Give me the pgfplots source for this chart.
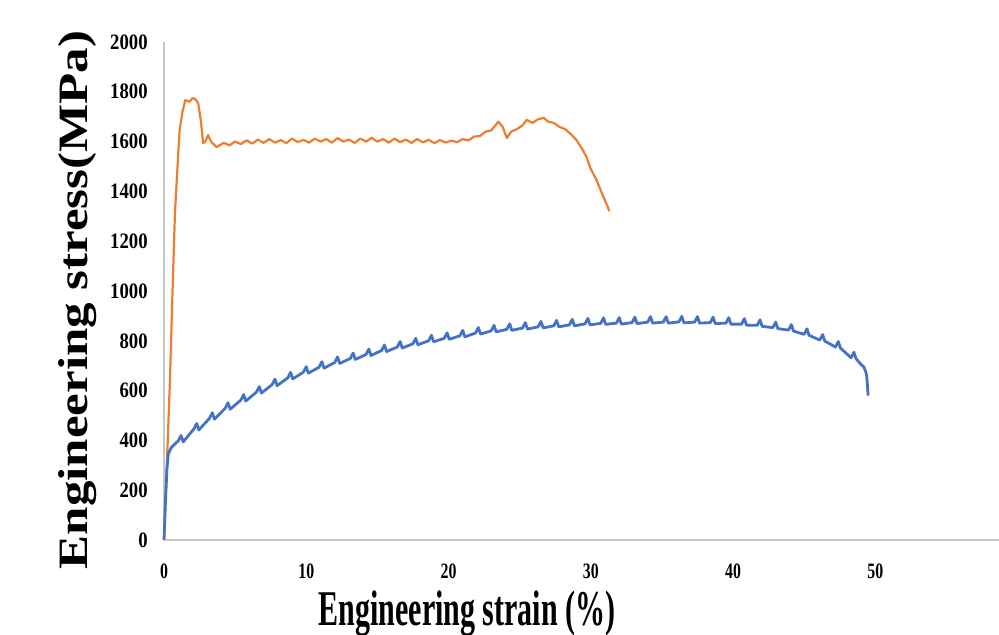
\documentclass[border=0pt]{standalone}
\usepackage{fontspec}
\setmainfont{Liberation Serif}
\usepackage{pgfplots}
\pgfplotsset{compat=1.18}
\definecolor{xlblue}{RGB}{68,114,196}
\definecolor{xlorange}{RGB}{237,125,49}

\begin{document}
\begin{tikzpicture}
\useasboundingbox (0,0) rectangle (499.5pt,317.5pt);
\begin{axis}[
  at={(82pt,47.5pt)}, anchor=south west,
  scale only axis, width=417.5pt, height=249pt,
  xmin=0, xmax=58.7, ymin=0, ymax=2000,
  axis x line=bottom, axis y line=left,
  axis line style={-, draw=black!22, line width=1pt},
  xtick={0,10,...,50}, ytick={0,200,...,2000},
  major tick length=0pt, tick style={draw=none},
  /pgf/number format/assume math mode=true,
  /pgf/number format/1000 sep={},
  xticklabel={\scalebox{0.72}[1]{\fontsize{11}{11}\bfseries\pgfmathprintnumber{\tick}}},
  yticklabel={\scalebox{0.85}[1]{\fontsize{11}{11}\bfseries\pgfmathprintnumber{\tick}}},
  xticklabel style={inner sep=0pt, anchor=north, yshift=-11.5pt},
  yticklabel style={inner sep=0pt, anchor=east, xshift=-8pt},
  xlabel={\scalebox{0.6}[1]{\fontsize{25}{25}\bfseries Engineering strain (\%)}},
  ylabel={\scalebox{1}[0.82]{\fontsize{25.5}{25.5}\bfseries Engineering stress(MPa)}},
  xlabel style={at={(axis description cs:0.363,-0.1707)}, anchor=base, inner sep=0pt},
  ylabel style={at={(axis description cs:-0.0922,0.482)}, anchor=base, inner sep=0pt},
  clip=false,
]
% orange specimen
\addplot[color=xlorange, line width=1.1pt, line join=round] coordinates {
  (0,0) (0.2,300) (0.42,643) (0.6,1000) (0.77,1313) (0.95,1500) (1.1,1647)
  (1.3,1720) (1.5,1767) (1.8,1760) (2.0,1775) (2.2,1770) (2.4,1755)
  (2.6,1680) (2.75,1594) (2.9,1600) (3.1,1626) (3.3,1600) (3.7,1578)
  (4.2,1595) (4.6,1585) (5.0,1600) (5.4,1590) (5.8,1605) (6.2,1592)
  (6.6,1608) (7.0,1595) (7.4,1610) (7.8,1596) (8.2,1606) (8.6,1594)
  (9.0,1612) (9.4,1598) (9.8,1607) (10.2,1596) (10.6,1612) (11.0,1600)
  (11.4,1610) (11.8,1596) (12.2,1614) (12.6,1600) (13.0,1608) (13.4,1595)
  (13.8,1612) (14.2,1600) (14.6,1615) (15.0,1600) (15.4,1610) (15.8,1596)
  (16.2,1612) (16.6,1598) (17.0,1608) (17.4,1595) (17.8,1610) (18.2,1597)
  (18.6,1607) (19.0,1594) (19.4,1606) (19.8,1596) (20.2,1604) (20.6,1598)
  (21.0,1610) (21.4,1605) (21.8,1620) (22.2,1622) (22.6,1640) (23.0,1645)
  (23.3,1665) (23.5,1680) (23.8,1660) (24.1,1614) (24.4,1640) (24.8,1650)
  (25.2,1665) (25.5,1687) (25.9,1675) (26.3,1690) (26.7,1695) (27.0,1680)
  (27.4,1675) (27.8,1659) (28.2,1650) (28.6,1630) (29.0,1606) (29.4,1570)
  (29.7,1538) (30.0,1490) (30.4,1446) (30.8,1390) (31.2,1337) (31.3,1320)
};
% blue specimen
\addplot[color=xlblue, line width=1.4pt, line join=round] coordinates {
  (0,0) (0.1,150) (0.2,280) (0.3,345) (0.5,370) (0.8,388)
  (1.0,398) (1.2,420) (1.35,394)
  (2.1,446) (2.3,468) (2.45,442)
  (3.2,489) (3.4,511) (3.55,485)
  (4.3,529) (4.5,551) (4.65,525)
  (5.4,562) (5.6,584) (5.75,558)
  (6.5,594) (6.7,616) (6.85,590)
  (7.6,624) (7.8,646) (7.95,620)
  (8.7,651) (8.9,673) (9.05,647)
  (9.8,674) (10.0,696) (10.15,670)
  (10.9,694) (11.1,716) (11.25,690)
  (12.0,713) (12.2,735) (12.35,709)
  (13.1,729) (13.3,751) (13.45,725)
  (14.2,745) (14.4,767) (14.55,741)
  (15.3,761) (15.5,783) (15.65,757)
  (16.4,775) (16.6,797) (16.75,771)
  (17.5,788) (17.7,810) (17.85,784)
  (18.6,800) (18.8,822) (18.95,796)
  (19.7,810) (19.9,832) (20.05,806)
  (20.8,820) (21.0,842) (21.15,816)
  (21.9,831) (22.1,853) (22.25,827)
  (23.0,840) (23.2,862) (23.35,836)
  (24.1,846) (24.3,868) (24.45,842)
  (25.2,851) (25.4,873) (25.55,847)
  (26.3,856) (26.5,878) (26.65,852)
  (27.4,860) (27.6,882) (27.75,856)
  (28.5,864) (28.7,886) (28.85,860)
  (29.6,868) (29.8,890) (29.95,864)
  (30.7,870) (30.9,892) (31.05,866)
  (31.8,871) (32.0,893) (32.15,867)
  (32.9,873) (33.1,895) (33.25,869)
  (34.0,875) (34.2,897) (34.35,871)
  (35.1,875) (35.3,897) (35.45,871)
  (36.2,876) (36.4,898) (36.55,872)
  (37.3,875) (37.5,897) (37.65,871)
  (38.4,873) (38.6,895) (38.75,869)
  (39.5,871) (39.7,893) (39.85,867)
  (40.6,867) (40.8,889) (40.95,863)
  (41.7,862) (41.9,884) (42.05,858)
  (42.8,853) (43.0,875) (43.15,849)
  (43.9,843) (44.1,865) (44.25,839)
  (45.0,826) (45.2,848) (45.35,822)
  (46.1,803) (46.3,825) (46.45,799)
  (47.2,775) (47.4,797) (47.55,771)
  (48.3,732) (48.5,754) (48.65,728)
  (49.0,705) (49.2,695) (49.35,672) (49.4,660) (49.45,620) (49.5,580)
};
\end{axis}
\end{tikzpicture}
\end{document}
